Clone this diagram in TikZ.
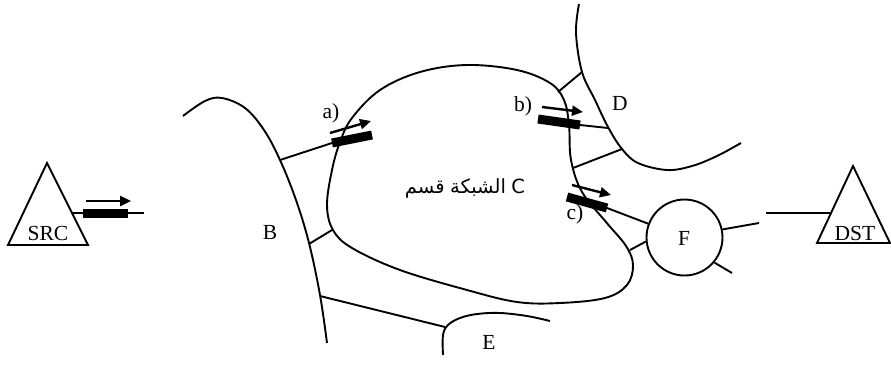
\documentclass[tikz,border=0pt]{standalone}
\usepackage{fontspec}
\setmainfont{Liberation Serif}
\newfontfamily\arabicfont[Script=Arabic]{DejaVu Sans}
\TeXXeTstate=1
\usetikzlibrary{arrows.meta}
\begin{document}
\begin{tikzpicture}[x=1pt,y=-1pt,
  every path/.style={line width=1.9pt},
  region/.style={line width=1.9pt, smooth, tension=0.6},
  link/.style={line width=1.9pt},
  barline/.style={line width=9pt},
  flow/.style={line width=2.4pt,-{Triangle[length=11pt,width=10pt]}},
  lbl/.style={font=\fontsize{21.5}{21.5}\selectfont, inner sep=0pt},
  albl/.style={font=\arabicfont\fontsize{19.5}{19.5}\selectfont, inner sep=0pt}]
\useasboundingbox (0,0) rectangle (891,365);

% triangles
\draw[line join=miter] (47,163) -- (88,245) -- (8,245) -- cycle;
\node[lbl] (src) at (48,233) {SRC};
\draw[line join=miter] (853,166) -- (890,243) -- (817,243) -- cycle;
\node[lbl] (dst) at (855,233) {DST};

% coordinates
\coordinate (srcOut) at (72,213);
\coordinate (srcEnd) at (144,213);
\coordinate (srcBarA) at (83,213);
\coordinate (srcBarB) at (128,213);
\coordinate (srcArA) at (86,201);
\coordinate (srcArB) at (131,201);
\coordinate (dstIn) at (832,213);
\coordinate (dstEnd) at (766,213);

% region B
\draw[region] plot coordinates {(183,116) (205,101) (222,98) (245,108) (264,130) (280,160) (296,200) (309,243) (320,295) (327,343)};
% region C
\draw[region] plot[smooth cycle] coordinates {(467,65) (517,70) (550,83) (564,100) (569,125) (571,160) (582,192) (606,222) (626,246) (633,265) (627,285) (605,298) (560,303) (517,302) (467,290) (400,270) (352,248) (333,230) (327,205) (332,170) (340,142) (352,118) (380,90) (420,72)};
% region D
\draw[region] plot coordinates {(579,4) (576,33) (582,72) (595,100) (608,127) (622,149) (638,163) (667,170) (692,166) (717,156) (741,143)};
% region E
\draw[region] plot coordinates {(443,355) (443,335) (448,325) (460,318) (477,314) (500,313) (527,316) (550,321)};
% F
\node[circle, draw, line width=1.9pt, minimum size=76pt, inner sep=0pt] (F) at (684.5,237.5) {};
\node[lbl] (Flbl) at (684,238) {F};

% coordinates on regions
\coordinate (B1) at (280,160);
\coordinate (B2) at (309,244);
\coordinate (B3) at (320,296);
\coordinate (C2) at (332,230);
\coordinate (E1) at (445,327);
\coordinate (aBarA) at (332,143);
\coordinate (aBarB) at (372,135);
\coordinate (aArA) at (330,133);
\coordinate (aArB) at (371,121);
\coordinate (C3) at (558,92);
\coordinate (D1) at (582,72);
\coordinate (bBarA) at (538,119);
\coordinate (bBarB) at (580,125);
\coordinate (D2) at (608,128);
\coordinate (bArA) at (542,107);
\coordinate (bArB) at (583,112);
\coordinate (C4) at (573,168);
\coordinate (D3) at (622,149);
\coordinate (cBarA) at (567,197);
\coordinate (cBarB) at (607,208);
\coordinate (cArA) at (572,185);
\coordinate (cArB) at (611,195);
\coordinate (C5) at (630,250);
\coordinate (Fr) at (759,223);
\coordinate (Fd) at (732,273);

% connectors
\draw[link] (srcOut) -- (srcEnd);
\draw[barline] (srcBarA) -- (srcBarB);
\draw[flow] (srcArA) -- (srcArB);
\draw[link] (dstEnd) -- (dstIn);

\draw[link] (B1) -- (aBarA);
\draw[barline] (aBarA) -- (aBarB);
\draw[flow] (aArA) -- (aArB);
\draw[link] (B2) -- (C2);
\draw[link] (B3) -- (E1);

\draw[link] (C3) -- (D1);
\draw[barline] (bBarA) -- (bBarB);
\draw[link] (bBarB) -- (D2);
\draw[flow] (bArA) -- (bArB);
\draw[link] (C4) -- (D3);

\draw[barline] (cBarA) -- (cBarB);
\draw[link] (cBarB) -- (F);
\draw[flow] (cArA) -- (cArB);
\draw[link] (C5) -- (F.186);
\draw[link] (F.12) -- (Fr);
\draw[link] (F.-40) -- (Fd);

% labels
\node[lbl] (la) at (331,113) {a)};
\node[lbl] (lb) at (523,106) {b)};
\node[lbl] (lc) at (575,214) {c)};
\node[lbl] (lD) at (620,103) {D};
\node[lbl] (lB) at (270,232) {B};
\node[lbl] (lE) at (489,342) {E};
\node[albl] (lC) at (465,188) {\hbox{\beginR قسم\endR}\hskip0.28em\hbox{\beginR الشبكة\endR}\hskip0.28em\hbox{C}};
\end{tikzpicture}
\end{document}
